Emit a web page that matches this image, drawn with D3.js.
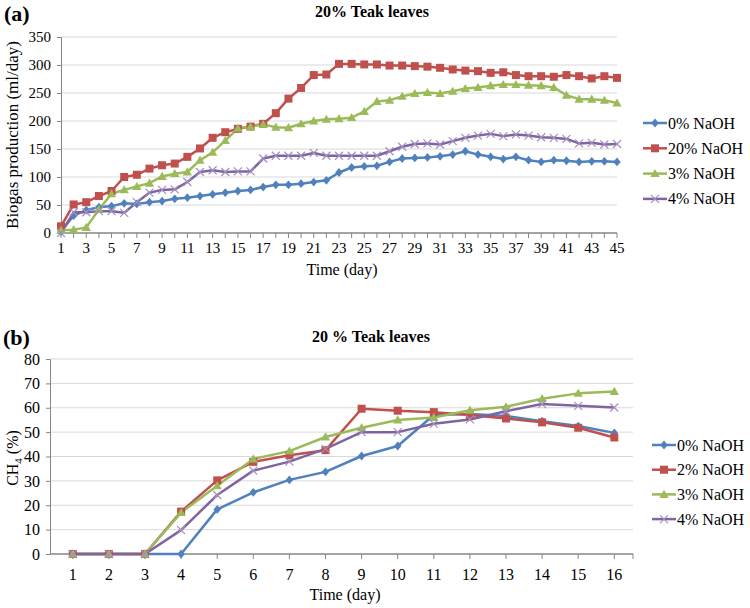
<!DOCTYPE html>
<html><head><meta charset="utf-8">
<script src="https://cdn.jsdelivr.net/npm/d3@7"></script>
<style>body{margin:0;background:#fff;} svg{display:block;font-family:"Liberation Serif","Times New Roman",serif;}</style>
</head><body>
<svg id="c" width="750" height="608"></svg>
<script>
// ---------- Data: panel (a) ----------
const daysA = [1,2,3,4,5,6,7,8,9,10,11,12,13,14,15,16,17,18,19,20,21,22,23,24,25,26,27,28,29,30,31,32,33,34,35,36,37,38,39,40,41,42,43,44,45];
const tickLabelsA = [1,3,5,7,9,11,13,15,17,19,21,23,25,27,29,31,33,35,37,39,41,43,45];
const yTicksA = [0,50,100,150,200,250,300,350];
const seriesNamesA = ["0% NaOH","20% NaOH","3% NaOH","4% NaOH"];
const a_0 = [3,31,41,46,48,53,52,55,57,61,63,66,69,72,75,77,82,86,86,88,91,94,108,117,119,120,127,133,134,135,137,140,146,140,136,132,136,130,127,130,129,127,128,128,127];
const a_20 = [12,51,55,66,75,100,104,115,121,124,136,151,170,180,186,190,195,214,240,259,282,283,302,302,301,301,299,299,298,297,295,292,290,289,286,287,282,280,280,279,282,280,276,280,277];
const a_3 = [5,6,10,42,70,77,83,89,101,106,109,130,144,165,187,190,194,189,188,195,200,203,204,206,217,235,237,244,249,251,249,253,258,260,263,265,265,264,263,260,246,239,239,237,232];
const a_4 = [0,37,37,39,39,36,55,72,77,78,91,109,112,109,110,110,133,138,138,138,143,138,138,138,138,138,146,154,159,160,158,164,170,174,177,173,176,174,171,170,168,160,161,158,159];

// ---------- Data: panel (b) ----------
const daysB = [1,2,3,4,5,6,7,8,9,10,11,12,13,14,15,16];
const yTicksB = [0,10,20,30,40,50,60,70,80];
const seriesNamesB = ["0% NaOH","2% NaOH","3% NaOH","4% NaOH"];
const b_0 = [0,0,0,0,18.3,25.3,30.4,33.7,40.2,44.3,57,57.4,56.6,54.5,52.5,49.7];
const b_2 = [0,0,0,17.4,30.2,37.8,40.5,42.6,59.6,58.8,58.2,57,55.6,54,51.8,47.8];
const b_3 = [0,0,0,17,28,39,42.2,48,51.8,55,56,59,60.4,63.7,65.9,66.7];
const b_4 = [0,0,0,9.8,24.2,34.2,37.9,43.1,50,50,53.4,55.2,58.6,61.5,60.8,60.1];

const colors = ["#4F81BD","#C0504D","#9BBB59","#8064A2"];
const markers = ["diamond","square","triangle","x"];

const svg = d3.select("#c");

function drawMarker(g, type, x, y, color, size) {
  if (type === "diamond") {
    const s = size*0.55;
    g.append("path").attr("d", `M${x},${y-s}L${x+s*0.85},${y}L${x},${y+s}L${x-s*0.85},${y}Z`).attr("fill", color);
  } else if (type === "square") {
    const s = size*0.5;
    g.append("rect").attr("x", x-s).attr("y", y-s).attr("width", 2*s).attr("height", 2*s).attr("fill", color);
  } else if (type === "triangle") {
    const s = size*0.58;
    g.append("path").attr("d", `M${x},${y-s}L${x+s},${y+s*0.75}L${x-s},${y+s*0.75}Z`).attr("fill", color);
  } else {
    const s = size*0.5;
    g.append("path").attr("d", `M${x-s},${y-s}L${x+s},${y+s}M${x-s},${y+s}L${x+s},${y-s}`)
      .attr("stroke", "#A48FC2").attr("stroke-width", 1.2).attr("fill","none");
  }
}

function panel(opts) {
  const {x, y, days, series, names, yTicks, xLabels, axisX0, axisX1, fs, msize, legendX, legendY0, legendDy} = opts;
  const g = svg.append("g");
  g.selectAll(".grid").data(yTicks.filter(v => v > 0)).enter().append("line")
    .attr("x1", axisX0).attr("x2", axisX1).attr("y1", d => y(d)).attr("y2", d => y(d))
    .attr("stroke", "#d9d9d9").attr("stroke-width", 1);
  const ya = g.append("g").attr("transform", `translate(${axisX0},0)`)
    .call(d3.axisLeft(y).tickValues(yTicks).tickSize(4).tickPadding(6).tickFormat(d3.format("d")));
  ya.select(".domain").attr("stroke", "#868686");
  ya.selectAll(".tick line").attr("stroke", "#868686");
  ya.selectAll("text").attr("font-size", fs).attr("font-family", "Liberation Serif").attr("fill", "#000");
  const y0 = y(0);
  g.append("line").attr("x1", axisX0).attr("x2", axisX1).attr("y1", y0).attr("y2", y0)
    .attr("stroke", "#868686").attr("stroke-width", 1.5);
  const tickPos = days.map(d => x(d)).concat(opts.extraTicks || []);
  g.selectAll(".xt").data(tickPos).enter().append("line")
    .attr("x1", d => d).attr("x2", d => d).attr("y1", y0).attr("y2", y0 + 5)
    .attr("stroke", "#868686").attr("stroke-width", 1);
  g.selectAll(".xl").data(xLabels).enter().append("text")
    .attr("x", d => x(d)).attr("y", y0 + opts.xLabelDy).attr("text-anchor", "middle")
    .attr("font-size", fs).attr("fill", "#000").text(d => d);
  const line = d3.line().x((d, i) => x(days[i])).y(d => y(d));
  series.forEach((s, k) => {
    g.append("path").datum(s).attr("d", line).attr("fill", "none")
      .attr("stroke", colors[k]).attr("stroke-width", 2.5).attr("stroke-linejoin", "round");
  });
  series.forEach((s, k) => {
    s.forEach((v, i) => drawMarker(g, markers[k], x(days[i]), y(v), colors[k], msize));
  });
  names.forEach((n, k) => {
    const ly = legendY0 + k * legendDy;
    g.append("line").attr("x1", legendX).attr("x2", legendX + 24).attr("y1", ly).attr("y2", ly)
      .attr("stroke", colors[k]).attr("stroke-width", 2.5);
    drawMarker(g, markers[k], legendX + 12, ly, colors[k], msize);
    g.append("text").attr("x", legendX + 25).attr("y", ly + 5.5).attr("font-size", 16).attr("fill", "#000").text(n);
  });
  return g;
}

// ---------- Panel (a) ----------
const xA = d3.scaleLinear().domain([1, 45]).range([61, 617]);
const yA = d3.scaleLinear().domain([0, 350]).range([233, 37]);
panel({x: xA, y: yA, days: daysA, series: [a_0, a_20, a_3, a_4], names: seriesNamesA,
  yTicks: yTicksA, xLabels: tickLabelsA, axisX0: 61, axisX1: 617, fs: 15, msize: 8,
  xLabelDy: 20, legendX: 643, legendY0: 123, legendDy: 25.3});
svg.append("text").attr("x", 4).attr("y", 21).attr("font-size", 22).attr("font-weight", "bold").text("(a)");
svg.append("text").attr("x", 372).attr("y", 17).attr("text-anchor", "middle").attr("font-size", 16)
  .attr("font-weight", "bold").text("20% Teak leaves");
svg.append("text").attr("x", 342).attr("y", 275).attr("text-anchor", "middle").attr("font-size", 16).text("Time (day)");
svg.append("text").attr("transform", "translate(18,135) rotate(-90)").attr("text-anchor", "middle")
  .attr("font-size", 17).text("Biogas production (ml/day)");

// ---------- Panel (b) ----------
const xB = d3.scaleLinear().domain([1, 16]).range([72.8, 614.3]);
const yB = d3.scaleLinear().domain([0, 80]).range([554, 359]);
panel({x: xB, y: yB, days: daysB, series: [b_0, b_2, b_3, b_4], names: seriesNamesB,
  yTicks: yTicksB, xLabels: daysB, axisX0: 50, axisX1: 633, fs: 16, msize: 8,
  xLabelDy: 26, extraTicks: [633], legendX: 652, legendY0: 445, legendDy: 24.7});
svg.append("text").attr("x", 3).attr("y", 345).attr("font-size", 22).attr("font-weight", "bold").text("(b)");
svg.append("text").attr("x", 371).attr("y", 342).attr("text-anchor", "middle").attr("font-size", 16)
  .attr("font-weight", "bold").text("20 % Teak leaves");
svg.append("text").attr("x", 345).attr("y", 600).attr("text-anchor", "middle").attr("font-size", 16).text("Time (day)");
const ch = svg.append("text").attr("transform", "translate(18,458) rotate(-90)").attr("text-anchor", "middle")
  .attr("font-size", 16);
ch.append("tspan").text("CH");
ch.append("tspan").attr("font-size", 11).attr("dy", 4).text("4");
ch.append("tspan").attr("dy", -4).text(" (%)");
</script>
</body></html>
